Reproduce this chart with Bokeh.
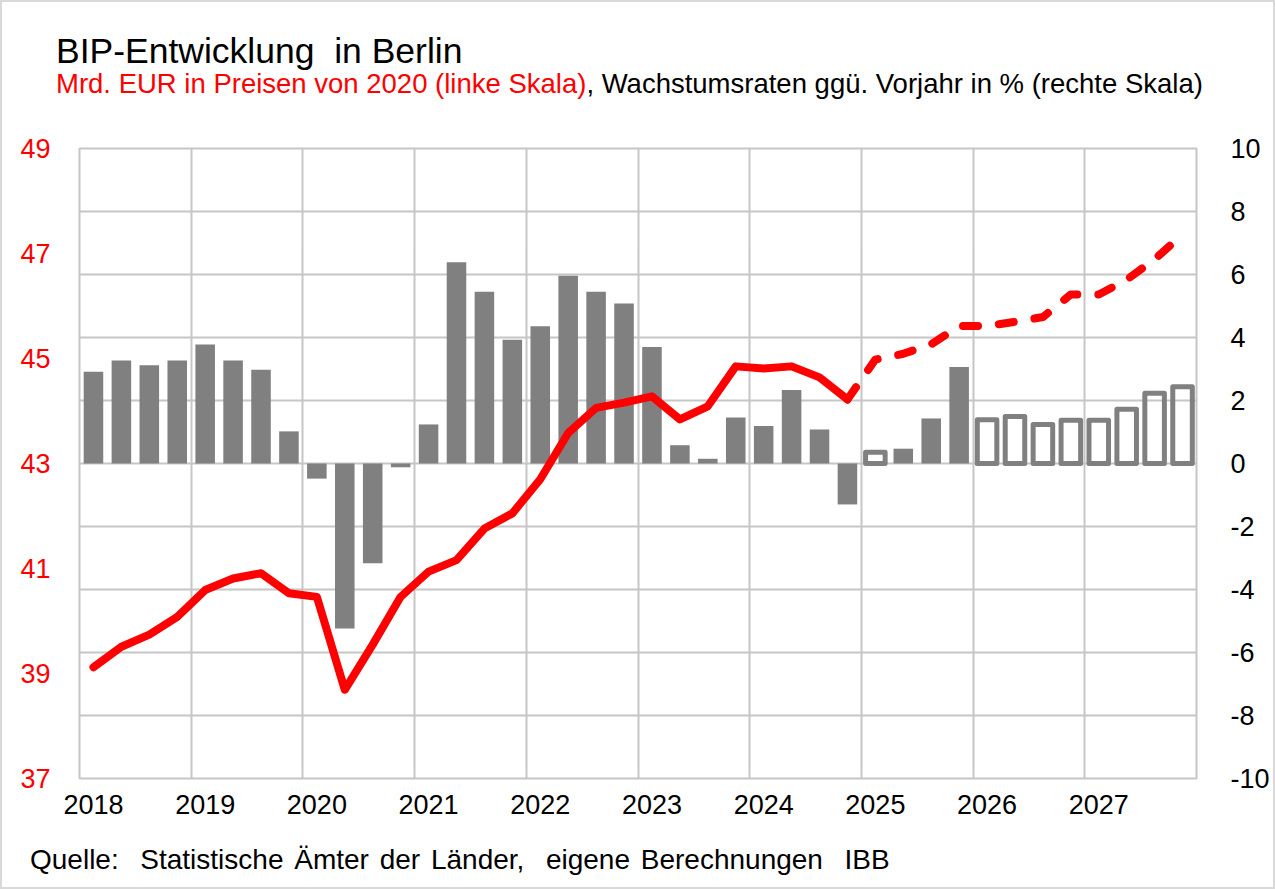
from bokeh.plotting import figure
from bokeh.models import Range1d, LinearAxis, FixedTicker, Grid, ColumnDataSource, Div
from bokeh.layouts import column
from bokeh.embed import file_html
from bokeh.resources import INLINE

# ---------------- data ----------------
years = ["2018", "2019", "2020", "2021", "2022", "2023", "2024", "2025", "2026", "2027"]

# BIP in Mrd. EUR (Preise 2020), quarterly, left scale
gdp = [39.12, 39.51, 39.74, 40.08,
       40.59, 40.81, 40.91, 40.53,
       40.46, 38.69, 39.55, 40.46,
       40.94, 41.16, 41.76, 42.05,
       42.70, 43.58, 44.06, 44.16,
       44.28, 43.84, 44.09, 44.85,
       44.81, 44.85, 44.64, 44.22,
       44.98, 45.09, 45.27, 45.62,
       45.62, 45.70, 45.79, 46.22,
       46.22, 46.50, 46.89, 47.36]

# growth vs previous year in %, right scale
growth = [2.91, 3.27, 3.12, 3.27,
          3.78, 3.27, 2.98, 1.02,
          -0.48, -5.24, -3.17, -0.12,
          1.24, 6.39, 5.45, 3.93,
          4.36, 5.96, 5.45, 5.08,
          3.70, 0.58, 0.15, 1.46,
          1.19, 2.33, 1.08, -1.30,
          0.36, 0.47, 1.43, 3.06,
          1.39, 1.49, 1.24, 1.37,
          1.37, 1.72, 2.23, 2.44]

# bar drawn as outline only (forecast style)
hollow = [False] * 28 + [True, False, False, False] + [True] * 8

# last observed quarter of the solid line (index), dashed afterwards
last_solid = 27

left_ticks = [37, 39, 41, 43, 45, 47, 49]
right_ticks = [-10, -8, -6, -4, -2, 0, 2, 4, 6, 8, 10]

title = "BIP-Entwicklung&nbsp; in Berlin"
subtitle_red = "Mrd. EUR in Preisen von 2020 (linke Skala)"
subtitle_black = ", Wachstumsraten ggü. Vorjahr in % (rechte Skala)"
source_text = "Quelle:&nbsp; Statistische Ämter der Länder,&nbsp; eigene Berechnungen&nbsp; IBB"

FONT = "Liberation Sans"
GRID = "#c6c6c6"
BAR = "#808080"
RED = "#ff0000"
W = 1271

n = len(gdp)
xs = [i + 0.5 for i in range(n)]

# ---------------- header ----------------
head_html = (
    f'<div style="position:relative;width:{W}px;height:120px;font-family:\'{FONT}\';">'
    f'<div style="position:absolute;left:54px;top:32px;font-size:35.5px;line-height:35.5px;'
    f'white-space:nowrap;color:black;">{title}</div>'
    f'<div style="position:absolute;left:54px;top:68px;font-size:27.5px;line-height:27.5px;'
    f'white-space:nowrap;"><span style="color:{RED};">{subtitle_red}</span>'
    f'<span style="color:black;">{subtitle_black}</span></div>'
    '</div>'
)
head = Div(text=head_html, width=W, height=120, margin=0)

# ---------------- main chart ----------------
p = figure(frame_width=1117, frame_height=630,
           x_range=Range1d(0, n), y_range=Range1d(37, 49),
           output_backend="svg", toolbar_location=None,
           min_border_left=77, min_border_right=77,
           min_border_top=26, min_border_bottom=52)
p.extra_y_ranges = {"pct": Range1d(-10, 10)}
p.background_fill_color = "white"
p.border_fill_color = "white"
p.outline_line_color = GRID
p.outline_line_width = 2

p.ygrid.visible = False
p.xgrid.ticker = FixedTicker(ticks=list(range(0, n + 1, 4)))
p.xgrid.grid_line_color = GRID
p.xgrid.grid_line_width = 2
hgrid = Grid(dimension=1, ticker=FixedTicker(ticks=right_ticks), y_range_name="pct",
             grid_line_color=GRID, grid_line_width=2)
p.add_layout(hgrid)

ya = p.yaxis[0]
ya.ticker = FixedTicker(ticks=left_ticks)
ya.axis_line_color = None
ya.major_tick_line_color = None
ya.minor_tick_line_color = None
ya.major_label_text_color = RED
ya.major_label_text_font = FONT
ya.major_label_text_font_size = "27px"
ya.major_label_standoff = 23

ra = LinearAxis(y_range_name="pct", ticker=FixedTicker(ticks=right_ticks))
ra.major_label_overrides = {t: str(t) for t in right_ticks}
ra.axis_line_color = None
ra.major_tick_line_color = None
ra.minor_tick_line_color = None
ra.major_label_text_color = "black"
ra.major_label_text_font = FONT
ra.major_label_text_font_size = "27px"
ra.major_label_standoff = 28
p.add_layout(ra, "right")

xa = p.xaxis[0]
label_pos = [4 * k + 0.5 for k in range(len(years))]
xa.ticker = FixedTicker(ticks=label_pos)
xa.major_label_overrides = {pos: y for pos, y in zip(label_pos, years)}
xa.axis_line_color = None
xa.major_tick_line_color = None
xa.minor_tick_line_color = None
xa.major_label_text_font = FONT
xa.major_label_text_font_size = "27px"
xa.major_label_text_color = "black"
xa.major_label_standoff = 10

solid_src = ColumnDataSource(dict(x=[x for x, h in zip(xs, hollow) if not h],
                                  top=[g for g, h in zip(growth, hollow) if not h]))
hollow_src = ColumnDataSource(dict(x=[x for x, h in zip(xs, hollow) if h],
                                   top=[g for g, h in zip(growth, hollow) if h]))
p.vbar(x="x", top="top", bottom=0, width=0.7, source=solid_src, y_range_name="pct",
       fill_color=BAR, line_color=None)
p.vbar(x="x", top="top", bottom=0, width=0.7, source=hollow_src, y_range_name="pct",
       fill_alpha=0, line_color=BAR, line_width=5, line_join="round")

p.line(xs[:last_solid + 1], gdp[:last_solid + 1], line_color=RED, line_width=8,
       line_join="round", line_cap="round")
p.line(xs[last_solid:], gdp[last_solid:], line_color=RED, line_width=8,
       line_join="round", line_cap="round", line_dash="15 21")

# ---------------- footer ----------------
foot_html = (
    f'<div style="position:relative;width:{W}px;height:57px;font-family:\'{FONT}\';">'
    f'<div style="position:absolute;left:28px;top:16px;font-size:28px;line-height:28px;'
    f'word-spacing:3px;white-space:nowrap;color:black;">{source_text}</div>'
    '</div>'
)
foot = Div(text=foot_html, width=W, height=57, margin=0)

layout = column(head, p, foot, spacing=0,
                styles={"border": "2px solid #d9d9d9", "background": "white"})

open("out.html", "w").write(file_html(layout, INLINE))
